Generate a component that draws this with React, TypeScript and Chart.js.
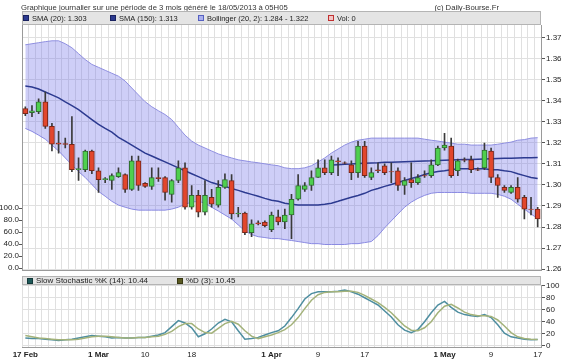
import React, { useEffect, useRef } from 'react';
import { Chart, registerables } from 'chart.js';

Chart.register(...registerables);

// ---------- DATA ----------
const dates = [
  '17/02', '18/02', '19/02', '20/02', '21/02', '22/02',
  '24/02', '25/02', '26/02', '27/02', '28/02', '01/03',
  '03/03', '04/03', '05/03', '06/03', '07/03', '08/03',
  '10/03', '11/03', '12/03', '13/03', '14/03', '15/03',
  '17/03', '18/03', '19/03', '20/03', '21/03', '22/03',
  '24/03', '25/03', '26/03', '27/03', '28/03', '29/03',
  '31/03', '01/04', '02/04', '03/04', '04/04', '05/04',
  '07/04', '08/04', '09/04', '10/04', '11/04', '12/04',
  '14/04', '15/04', '16/04', '17/04', '18/04', '19/04',
  '21/04', '22/04', '23/04', '24/04', '25/04', '26/04',
  '28/04', '29/04', '30/04', '01/05', '02/05', '03/05',
  '05/05', '06/05', '07/05', '08/05', '09/05', '10/05',
  '12/05', '13/05', '14/05', '15/05', '16/05', '17/05',
];

const opens = [
  1.3362, 1.3343, 1.3348, 1.3394, 1.3278, 1.3198, 1.3196, 1.3193, 1.3072, 1.3072,
  1.3161, 1.3067, 1.3025, 1.3021, 1.3039, 1.3049, 1.2979, 1.3114, 1.3007, 1.2993,
  1.3035, 1.3035, 1.2955, 1.3021, 1.3081, 1.2894, 1.2950, 1.2871, 1.2941, 1.2904,
  1.2988, 1.3021, 1.2862, 1.2866, 1.2773, 1.2820, 1.2824, 1.2787, 1.2848, 1.2824,
  1.2857, 1.2932, 1.2979, 1.2997, 1.3035, 1.3081, 1.3058, 1.3114, 1.3105, 1.3095,
  1.3058, 1.3184, 1.3035, 1.3072, 1.3091, 1.3063, 1.3067, 1.2997, 1.3025, 1.3011,
  1.3044, 1.3044, 1.3095, 1.3175, 1.3184, 1.3067, 1.3119, 1.3119, 1.3072, 1.3081,
  1.3161, 1.3035, 1.2988, 1.2964, 1.2988, 1.2941, 1.2885, 1.2885,
];
const highs = [
  1.3371, 1.3376, 1.3408, 1.3441, 1.3292, 1.3254, 1.3222, 1.3324, 1.3128, 1.3165,
  1.3165, 1.3081, 1.3035, 1.3053, 1.3081, 1.3053, 1.3137, 1.3137, 1.3011, 1.3081,
  1.3081, 1.3039, 1.3025, 1.3114, 1.3105, 1.2997, 1.2974, 1.3021, 1.2979, 1.3021,
  1.3053, 1.3049, 1.2894, 1.2871, 1.2834, 1.2829, 1.2829, 1.2871, 1.2880, 1.2885,
  1.2955, 1.3049, 1.3011, 1.3067, 1.3119, 1.3119, 1.3137, 1.3128, 1.3109, 1.3114,
  1.3207, 1.3207, 1.3081, 1.3105, 1.3100, 1.3105, 1.3081, 1.3035, 1.3105, 1.3049,
  1.3067, 1.3119, 1.3184, 1.3245, 1.3222, 1.3123, 1.3128, 1.3137, 1.3081, 1.3198,
  1.3175, 1.3049, 1.2997, 1.2997, 1.3035, 1.2950, 1.2941, 1.2894,
];
const lows = [
  1.3329, 1.3324, 1.3338, 1.3268, 1.3161, 1.3151, 1.3175, 1.3063, 1.3021, 1.3063,
  1.3053, 1.2964, 1.3011, 1.2979, 1.3035, 1.2964, 1.2974, 1.2974, 1.2988, 1.2979,
  1.3016, 1.2927, 1.2918, 1.3011, 1.2885, 1.2885, 1.2848, 1.2857, 1.2894, 1.2894,
  1.2983, 1.2838, 1.2848, 1.2764, 1.2754, 1.2810, 1.2801, 1.2778, 1.2810, 1.2792,
  1.2745, 1.2927, 1.2969, 1.2974, 1.3035, 1.3049, 1.3049, 1.3044, 1.3100, 1.3025,
  1.3035, 1.3035, 1.3025, 1.3058, 1.3049, 1.3011, 1.2974, 1.2955, 1.2988, 1.3002,
  1.3035, 1.3035, 1.3091, 1.3165, 1.3035, 1.3044, 1.3109, 1.3058, 1.3067, 1.3072,
  1.3011, 1.2941, 1.2964, 1.2960, 1.2918, 1.2838, 1.2857, 1.2801,
];
const closes = [
  1.3338, 1.3352, 1.3394, 1.3278, 1.3193, 1.3193, 1.3192, 1.3072, 1.3077, 1.3161,
  1.3067, 1.3025, 1.3030, 1.3044, 1.3058, 1.2979, 1.3114, 1.2997, 1.2993, 1.3035,
  1.3030, 1.2964, 1.3021, 1.3081, 1.2894, 1.2950, 1.2871, 1.2950, 1.2908, 1.2988,
  1.3025, 1.2862, 1.2866, 1.2773, 1.2815, 1.2815, 1.2806, 1.2857, 1.2824, 1.2857,
  1.2932, 1.2997, 1.2997, 1.3035, 1.3081, 1.3058, 1.3119, 1.3109, 1.3103, 1.3058,
  1.3184, 1.3044, 1.3058, 1.3067, 1.3058, 1.3061, 1.2997, 1.3021, 1.3011, 1.3035,
  1.3042, 1.3095, 1.3175, 1.3189, 1.3044, 1.3114, 1.3117, 1.3072, 1.3070, 1.3165,
  1.3035, 1.2997, 1.2974, 1.2988, 1.2932, 1.2885, 1.2883, 1.2838,
];

const sma20 = [
  1.3469, 1.3465, 1.3455, 1.3441, 1.3427, 1.3413, 1.3394, 1.3376, 1.3357, 1.3334,
  1.3310, 1.3287, 1.3268, 1.3250, 1.3226, 1.3208, 1.3189, 1.3170, 1.3151, 1.3137,
  1.3123, 1.3109, 1.3095, 1.3081, 1.3067, 1.3053, 1.3039, 1.3025, 1.3011, 1.3002,
  1.2993, 1.2983, 1.2974, 1.2964, 1.2955, 1.2946, 1.2936, 1.2927, 1.2922, 1.2913,
  1.2908, 1.2904, 1.2904, 1.2904, 1.2904, 1.2908, 1.2913, 1.2922, 1.2932, 1.2941,
  1.2950, 1.2960, 1.2974, 1.2983, 1.2993, 1.3002, 1.3011, 1.3021, 1.3030, 1.3039,
  1.3049, 1.3058, 1.3063, 1.3067, 1.3072, 1.3077, 1.3077, 1.3077, 1.3077, 1.3077,
  1.3072, 1.3072, 1.3067, 1.3063, 1.3053, 1.3044, 1.3035, 1.3030,
];

const sma150 = [
  null, null, null, null, null, null, null, null, null, null,
  null, null, null, null, null, null, null, null, null, null,
  null, null, null, null, null, null, null, null, null, null,
  null, null, null, null, null, null, null, null, null, null,
  null, null, null, null, null, null, 1.3094, 1.3096, 1.3098, 1.3099,
  1.3101, 1.3103, 1.3104, 1.3105, 1.3107, 1.3108, 1.3109, 1.3110, 1.3111, 1.3112,
  1.3113, 1.3114, 1.3116, 1.3117, 1.3118, 1.3119, 1.3120, 1.3121, 1.3122, 1.3123,
  1.3124, 1.3125, 1.3126, 1.3127, 1.3128, 1.3129, 1.3129, 1.3130,
];

const bbUpper = [
  1.3665, 1.3670, 1.3675, 1.3680, 1.3684, 1.3684, 1.3670, 1.3651, 1.3623, 1.3595,
  1.3572, 1.3558, 1.3544, 1.3530, 1.3516, 1.3493, 1.3460, 1.3427, 1.3395, 1.3371,
  1.3352, 1.3334, 1.3310, 1.3273, 1.3236, 1.3208, 1.3189, 1.3175, 1.3161, 1.3147,
  1.3137, 1.3128, 1.3119, 1.3114, 1.3109, 1.3105, 1.3100, 1.3095, 1.3091, 1.3081,
  1.3077, 1.3077, 1.3081, 1.3091, 1.3109, 1.3128, 1.3151, 1.3170, 1.3189, 1.3203,
  1.3212, 1.3217, 1.3222, 1.3222, 1.3222, 1.3222, 1.3222, 1.3222, 1.3222, 1.3222,
  1.3217, 1.3212, 1.3208, 1.3203, 1.3198, 1.3193, 1.3193, 1.3189, 1.3189, 1.3189,
  1.3189, 1.3193, 1.3198, 1.3203, 1.3212, 1.3215, 1.3222, 1.3224,
];
const bbLower = [
  1.3268, 1.3254, 1.3236, 1.3217, 1.3189, 1.3161, 1.3128, 1.3095, 1.3063, 1.3035,
  1.3002, 1.2969, 1.2946, 1.2922, 1.2904, 1.2894, 1.2885, 1.2880, 1.2880, 1.2880,
  1.2880, 1.2880, 1.2885, 1.2894, 1.2908, 1.2918, 1.2922, 1.2913, 1.2894, 1.2876,
  1.2857, 1.2838, 1.2810, 1.2782, 1.2764, 1.2754, 1.2750, 1.2745, 1.2745, 1.2740,
  1.2736, 1.2731, 1.2726, 1.2721, 1.2721, 1.2717, 1.2717, 1.2717, 1.2717, 1.2721,
  1.2721, 1.2726, 1.2731, 1.2759, 1.2796, 1.2829, 1.2862, 1.2894, 1.2918, 1.2936,
  1.2950, 1.2960, 1.2964, 1.2964, 1.2964, 1.2964, 1.2964, 1.2960, 1.2960, 1.2960,
  1.2960, 1.2955, 1.2946, 1.2932, 1.2908, 1.2885, 1.2862, 1.2840,
];

const stochK = [
  13, 12, 12, 11, 10, 9, 10, 11, 13, 15,
  17, 16, 15, 13, 14, 13, 13, 14, 14, 16,
  18, 22, 32, 42, 38, 30, 15, 20, 28, 38,
  44, 40, 25, 11, 12, 14, 18, 22, 25, 33,
  47, 62, 78, 87, 90, 90, 90, 91, 93, 90,
  86, 80, 74, 68, 58, 48, 35, 26, 22, 27,
  40, 55, 68, 74, 64, 56, 52, 50, 49, 52,
  47, 35, 21, 15, 13, 11, 10, 10.44,
];
const stochD = [
  17, 15, 13, 12, 11, 10, 10, 10, 11, 13,
  15, 16, 16, 15, 14, 13, 13, 14, 14, 15,
  16, 19, 24, 32, 37, 37, 28, 22, 21, 29,
  37, 41, 36, 25, 16, 12, 15, 18, 22, 27,
  35, 47, 62, 76, 85, 89, 90, 90, 91, 91,
  89, 84, 78, 72, 64, 55, 44, 33, 26, 25,
  30, 40, 55, 66, 69, 63, 56, 52, 50, 50,
  49, 43, 33, 22, 15, 12, 11, 10.45,
];

const priceTicks = [1.26, 1.27, 1.28, 1.29, 1.30, 1.31, 1.32, 1.33, 1.34, 1.35, 1.36, 1.37];
const volTicks = [0, 20, 40, 60, 80, 100];
const stochTicks = [0, 20, 40, 60, 80, 100];

const xTickDates = ['17/02', '01/03', '10/03', '18/03', '01/04', '09/04', '17/04', '01/05', '09/05', '17/05'];
const xTickTexts = ['17 Feb', '1 Mar', '10', '18', '1 Apr', '9', '17', '1 May', '9', '17'];
const xTickBold = [true, true, false, false, true, false, false, true, false, false];

const titleText = 'Graphique journalier sur une période de 3 mois généré le 18/05/2013 à 05H05';
const creditText = '(c) Daily-Bourse.Fr';
const mainLegend = ['SMA (20): 1.303', 'SMA (150): 1.313', 'Bollinger (20, 2): 1.284 - 1.322', 'Vol: 0'];
const stochLegend = ['Slow Stochastic %K (14): 10.44', '%D (3): 10.45'];

// ---------- STYLE ----------
const FONT = "'Liberation Sans', Arial, sans-serif";
const GRID = '#e0e0e0';
const AXIS = '#9a9a9a';
const TEXT = '#222222';
const GREEN = '#4fcf4f';
const GREEN_B = '#2f6f2f';
const RED = '#e2462c';
const RED_B = '#7a2618';
const WICK = '#3a3a3a';
const SMA_COL = '#2c3a90';
const BAND_LINE = '#8f8fe0';
const BAND_FILL = 'rgba(120,120,232,0.36)';
const K_COL = '#4e8ea0';
const D_COL = '#a3b27a';

const W = 567;
const MAIN_H = 276;
const STOCH_H = 84;

function drawLegendBar(
  ctx: CanvasRenderingContext2D,
  left: number,
  right: number,
  top: number,
  h: number,
  size: number,
  items: { x: number; text: string; fill: string; stroke: string }[]
) {
  ctx.save();
  ctx.fillStyle = '#e4e4e4';
  ctx.fillRect(left, top, right - left, h);
  ctx.strokeStyle = '#b4b4b4';
  ctx.lineWidth = 1;
  ctx.strokeRect(left + 0.5, top + 0.5, right - left - 1, h - 1);
  ctx.font = `${size}px ${FONT}`;
  ctx.textBaseline = 'middle';
  ctx.textAlign = 'left';
  const cy = top + h / 2;
  for (const it of items) {
    ctx.fillStyle = it.fill;
    ctx.fillRect(it.x, Math.round(cy - 3), 6, 6);
    ctx.strokeStyle = it.stroke;
    ctx.strokeRect(it.x + 0.5, Math.round(cy - 3) + 0.5, 5, 5);
    ctx.fillStyle = TEXT;
    ctx.fillText(it.text, it.x + 9, cy + 0.5);
  }
  ctx.restore();
}

export default function App() {
  const mainRef = useRef<HTMLCanvasElement | null>(null);
  const stochRef = useRef<HTMLCanvasElement | null>(null);

  useEffect(() => {
    if (!mainRef.current || !stochRef.current) return;

    const mainDecor = {
      id: 'mainDecor',
      afterDraw(chart: any) {
        const ctx = chart.ctx as CanvasRenderingContext2D;
        const { left, right } = chart.chartArea;
        ctx.save();
        ctx.font = `7.7px ${FONT}`;
        ctx.fillStyle = '#333';
        ctx.textBaseline = 'middle';
        ctx.textAlign = 'left';
        ctx.fillText(titleText, 21, 8);
        ctx.textAlign = 'right';
        ctx.fillText(creditText, 499, 8);
        ctx.restore();
        drawLegendBar(ctx, left, right, 11, 14, 7.5, [
          { x: 23, text: mainLegend[0], fill: SMA_COL, stroke: '#1a2260' },
          { x: 110, text: mainLegend[1], fill: SMA_COL, stroke: '#1a2260' },
          { x: 198, text: mainLegend[2], fill: '#aab0ee', stroke: '#5560c0' },
          { x: 328, text: mainLegend[3], fill: '#f2c4c4', stroke: '#c03030' },
        ]);
      },
    };

    const stochDecor = {
      id: 'stochDecor',
      afterDraw(chart: any) {
        const ctx = chart.ctx as CanvasRenderingContext2D;
        const { left, right } = chart.chartArea;
        drawLegendBar(ctx, left, right, 0, 9, 8, [
          { x: 27, text: stochLegend[0], fill: '#1f5a5a', stroke: '#123838' },
          { x: 177, text: stochLegend[1], fill: '#5a5a22', stroke: '#383812' },
        ]);
      },
    };

    const tickFont = { family: FONT, size: 8 };

    const main = new Chart(mainRef.current, {
      type: 'bar',
      data: {
        labels: dates,
        datasets: [
          {
            type: 'bar',
            label: 'Body',
            data: dates.map((_, i) => [opens[i], closes[i]]) as any,
            backgroundColor: closes.map((c, i) => (c >= opens[i] ? GREEN : RED)),
            borderColor: closes.map((c, i) => (c >= opens[i] ? GREEN_B : RED_B)),
            borderWidth: 1,
            borderSkipped: false,
            barThickness: 5,
            grouped: false,
            order: 0,
            yAxisID: 'y',
          } as any,
          {
            type: 'bar',
            label: 'Wick',
            data: dates.map((_, i) => [lows[i], highs[i]]) as any,
            backgroundColor: WICK,
            borderWidth: 0,
            barThickness: 1,
            grouped: false,
            order: 1,
            yAxisID: 'y',
          } as any,
          {
            type: 'line',
            label: 'SMA (20)',
            data: sma20,
            borderColor: SMA_COL,
            borderWidth: 1.5,
            pointRadius: 0,
            fill: false,
            order: 2,
            yAxisID: 'y',
          } as any,
          {
            type: 'line',
            label: 'SMA (150)',
            data: sma150,
            borderColor: SMA_COL,
            borderWidth: 1.5,
            pointRadius: 0,
            fill: false,
            spanGaps: false,
            order: 2,
            yAxisID: 'y',
          } as any,
          {
            type: 'line',
            label: 'Bollinger haut',
            data: bbUpper,
            borderColor: BAND_LINE,
            borderWidth: 1,
            pointRadius: 0,
            fill: '+1',
            backgroundColor: BAND_FILL,
            order: 3,
            yAxisID: 'y',
          } as any,
          {
            type: 'line',
            label: 'Bollinger bas',
            data: bbLower,
            borderColor: BAND_LINE,
            borderWidth: 1,
            pointRadius: 0,
            fill: false,
            order: 4,
            yAxisID: 'y',
          } as any,
        ],
      },
      options: {
        responsive: false,
        animation: false,
        events: [],
        layout: { padding: { top: 25, bottom: 2, left: 0, right: 0 } },
        plugins: { legend: { display: false }, tooltip: { enabled: false }, title: { display: false } },
        scales: {
          x: {
            type: 'category',
            offset: true,
            grid: { color: GRID, offset: true, drawTicks: false },
            border: { display: true, color: AXIS },
            ticks: { display: false, autoSkip: false },
            afterFit: (s: any) => {
              s.height = 0;
            },
          },
          y: {
            position: 'right',
            min: 1.2595,
            max: 1.3759,
            grid: { color: GRID, tickLength: 4, tickColor: '#555' },
            border: { color: AXIS },
            ticks: {
              font: tickFont,
              color: TEXT,
              padding: 1,
              autoSkip: false,
              callback: (v: any) => Number(v).toFixed(2),
            },
            afterBuildTicks: (s: any) => {
              s.ticks = priceTicks.map((v) => ({ value: v }));
            },
            afterFit: (s: any) => {
              s.width = 26;
            },
          },
          yV: {
            position: 'left',
            min: -3.3,
            max: 404.9,
            grid: { drawOnChartArea: false, tickLength: 3, tickColor: '#555' },
            border: { color: AXIS },
            ticks: {
              font: tickFont,
              color: TEXT,
              padding: 0,
              autoSkip: false,
              callback: (v: any) => Number(v).toFixed(1),
            },
            afterBuildTicks: (s: any) => {
              s.ticks = volTicks.map((v) => ({ value: v }));
            },
            afterFit: (s: any) => {
              s.width = 22;
            },
          },
        },
      } as any,
      plugins: [mainDecor],
    });

    const tickIndex = (i: number) => xTickDates.indexOf(dates[i]);

    const stoch = new Chart(stochRef.current, {
      type: 'line',
      data: {
        labels: dates,
        datasets: [
          {
            label: '%D (3)',
            data: stochD,
            borderColor: D_COL,
            borderWidth: 1.5,
            pointRadius: 0,
            fill: false,
          },
          {
            label: 'Slow Stochastic %K (14)',
            data: stochK,
            borderColor: K_COL,
            borderWidth: 1.5,
            pointRadius: 0,
            fill: false,
          },
        ],
      },
      options: {
        responsive: false,
        animation: false,
        events: [],
        layout: { padding: { top: 9, bottom: 0, left: 22, right: 0 } },
        plugins: { legend: { display: false }, tooltip: { enabled: false }, title: { display: false } },
        scales: {
          x: {
            type: 'category',
            offset: true,
            grid: { color: GRID, offset: true, drawTicks: false },
            border: { display: true, color: AXIS },
            ticks: {
              autoSkip: false,
              maxRotation: 0,
              minRotation: 0,
              padding: 3,
              color: TEXT,
              font: (c: any) => {
                const k = tickIndex(c.index);
                return { family: FONT, size: 8, weight: k >= 0 && xTickBold[k] ? 'bold' : 'normal' };
              },
              callback: (_v: any, i: number) => {
                const k = tickIndex(i);
                return k >= 0 ? xTickTexts[k] : '';
              },
            },
            afterFit: (s: any) => {
              s.height = 13;
            },
          },
          y: {
            position: 'right',
            min: -2,
            max: 101.3,
            grid: { color: GRID, tickLength: 4, tickColor: '#555' },
            border: { color: AXIS },
            ticks: {
              font: tickFont,
              color: TEXT,
              padding: 1,
              autoSkip: false,
              callback: (v: any) => String(Math.round(Number(v))),
            },
            afterBuildTicks: (s: any) => {
              s.ticks = stochTicks.map((v) => ({ value: v }));
            },
            afterFit: (s: any) => {
              s.width = 26;
            },
          },
        },
      } as any,
      plugins: [stochDecor],
    });

    return () => {
      main.destroy();
      stoch.destroy();
    };
  }, []);

  return (
    <div style={{ position: 'absolute', left: 0, top: 0, width: W, height: MAIN_H + STOCH_H, background: '#fff' }}>
      <canvas
        ref={mainRef}
        width={W}
        height={MAIN_H}
        style={{ position: 'absolute', left: 0, top: 0, width: W, height: MAIN_H, display: 'block' }}
      />
      <canvas
        ref={stochRef}
        width={W}
        height={STOCH_H}
        style={{ position: 'absolute', left: 0, top: MAIN_H, width: W, height: STOCH_H, display: 'block' }}
      />
    </div>
  );
}
